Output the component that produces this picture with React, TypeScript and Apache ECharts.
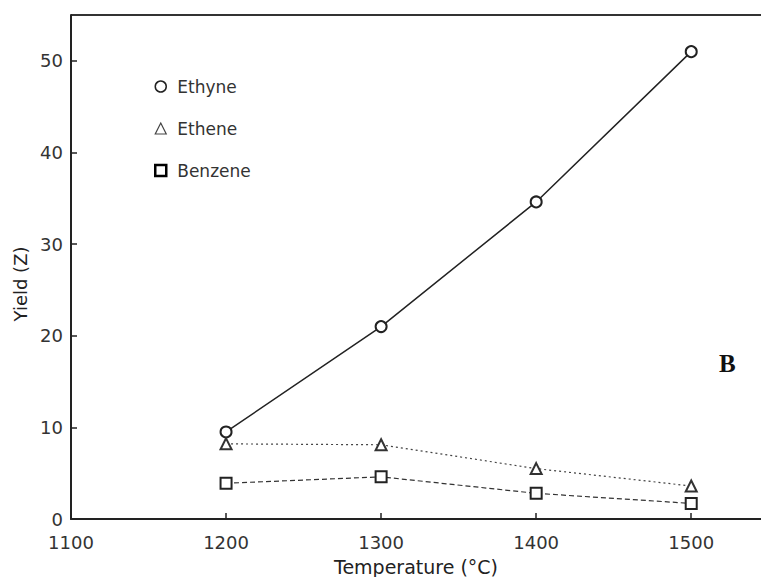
import React, { useEffect, useRef } from "react";
import * as echarts from "echarts";

const temperatures = [1200, 1300, 1400, 1500];
const ethyne = [9.5, 21.0, 34.6, 51.0];
const ethene = [8.2, 8.1, 5.5, 3.6];
const benzene = [3.9, 4.6, 2.8, 1.7];
const seriesNames = ["Ethyne", "Ethene", "Benzene"];
const xTicks = [1100, 1200, 1300, 1400, 1500];
const yTicks = [0, 10, 20, 30, 40, 50];
const yAxisTitle = "Yield (Z)";
const xAxisTitle = "Temperature (°C)";
const panelLabel = "B";

const pair = (vals: number[]) => temperatures.map((t, i) => [t, vals[i]]);

export default function App() {
  const ref = useRef<HTMLDivElement>(null);
  useEffect(() => {
    if (!ref.current) return;
    const chart = echarts.init(ref.current, undefined, { renderer: "svg" });
    const font = "DejaVu Sans";
    chart.setOption({
      animation: false,
      backgroundColor: "#fff",
      grid: { left: 71, top: 15, right: 0, bottom: 58, containLabel: false, outerBoundsMode: "none" },
      legend: {
        orient: "vertical",
        left: 149,
        top: 73,
        itemGap: 25,
        itemWidth: 11,
        itemHeight: 11,
        selectedMode: false,
        textStyle: { fontFamily: font, fontSize: 17, color: "#333", padding: [0, 0, 0, 6] },
        data: [
          { name: seriesNames[0], icon: "circle", itemStyle: { color: "#fff", borderColor: "#222", borderWidth: 1.5 } },
          { name: seriesNames[1], icon: "triangle", itemStyle: { color: "#fff", borderColor: "#444", borderWidth: 1.2 } },
          { name: seriesNames[2], icon: "rect", itemStyle: { color: "#fff", borderColor: "#000", borderWidth: 2.5 } },
        ],
      },
      xAxis: {
        type: "value",
        min: 1100,
        max: 1545,
        interval: 100,
        name: xAxisTitle,
        nameLocation: "middle",
        nameGap: 38,
        nameTextStyle: { fontFamily: font, fontSize: 19, color: "#222" },
        axisLine: { show: true, lineStyle: { color: "#222", width: 2 } },
        axisTick: { show: true, inside: true, length: 6, lineStyle: { color: "#222", width: 1.5 } },
        axisLabel: {
          fontFamily: font,
          fontSize: 18,
          color: "#333",
          margin: 14,
          showMaxLabel: false,
          formatter: (v: number) => (xTicks.includes(v) ? String(v) : ""),
        },
        splitLine: { show: false },
      },
      yAxis: {
        type: "value",
        min: 0,
        max: 55,
        interval: 10,
        axisLine: { show: true, lineStyle: { color: "#222", width: 2 } },
        axisTick: { show: true, inside: true, length: 6, lineStyle: { color: "#222", width: 1.5 } },
        axisLabel: {
          fontFamily: font,
          fontSize: 18,
          color: "#333",
          margin: 8,
          showMaxLabel: false,
          formatter: (v: number) => (yTicks.includes(v) ? String(v) : ""),
        },
        splitLine: { show: false },
      },
      graphic: [
        {
          type: "line",
          shape: { x1: 71, y1: 15, x2: 761, y2: 15 },
          style: { stroke: "#333", lineWidth: 2 },
        },
        {
          type: "text",
          x: 20,
          y: 284,
          rotation: Math.PI / 2,
          style: {
            text: yAxisTitle,
            font: `18px '${font}'`,
            fill: "#222",
            textAlign: "center",
            textVerticalAlign: "middle",
          },
        },
        {
          type: "text",
          left: 719,
          top: 351,
          style: { text: panelLabel, font: "bold 25px 'Liberation Serif'", fill: "#111" },
        },
      ],
      series: [
        {
          name: seriesNames[0],
          type: "line",
          data: pair(ethyne),
          symbol: "emptyCircle",
          symbolSize: 11,
          itemStyle: { color: "#222", borderWidth: 1.5 },
          lineStyle: { color: "#222", width: 1.5, type: "solid" },
        },
        {
          name: seriesNames[1],
          type: "line",
          data: pair(ethene),
          symbol: "emptyTriangle",
          symbolSize: 11,
          itemStyle: { color: "#333", borderWidth: 1.5 },
          lineStyle: { color: "#444", width: 1.2, type: [2, 3] },
        },
        {
          name: seriesNames[2],
          type: "line",
          data: pair(benzene),
          symbol: "emptyRect",
          symbolSize: 11,
          itemStyle: { color: "#222", borderWidth: 1.5 },
          lineStyle: { color: "#333", width: 1.2, type: [5, 3] },
        },
      ],
    });
    return () => chart.dispose();
  }, []);
  return <div ref={ref} style={{ width: 761, height: 577, position: "absolute", left: 0, top: 0 }} />;
}
